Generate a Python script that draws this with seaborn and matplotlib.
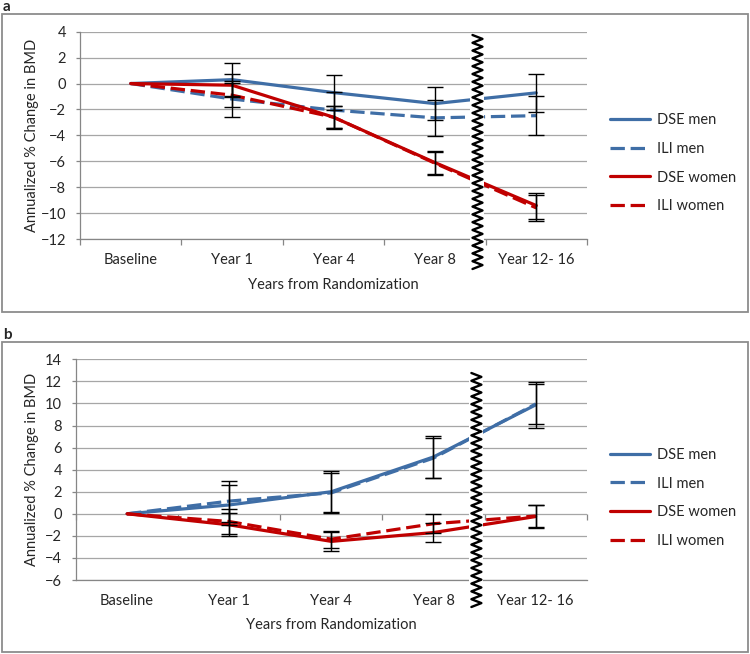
import numpy as np
import pandas as pd
import seaborn as sns
import matplotlib.pyplot as plt
from matplotlib.lines import Line2D
from matplotlib.patches import Rectangle

# categories and series
categories = ["Baseline", "Year 1", "Year 4", "Year 8", "Year 12- 16"]
series_names = ["DSE men", "ILI men", "DSE women", "ILI women"]

# panel a values (annualized % change in BMD)
a_dse_men = [0, 0.3, -0.7, -1.55, -0.72]
a_ili_men = [0, -1.2, -2.05, -2.65, -2.48]
a_dse_women = [0, -0.13, -2.6, -6.1, -9.42]
a_ili_women = [0, -0.9, -2.6, -6.15, -9.6]
# panel a error bars (no bar at baseline)
a_err_dse_men = [np.nan, 1.32, 1.35, 1.3, 1.44]
a_err_ili_men = [np.nan, 1.38, 1.4, 1.37, 1.5]
a_err_dse_women = [np.nan, 0.85, 0.85, 0.9, 1.0]
a_err_ili_women = [np.nan, 0.95, 0.9, 0.9, 1.0]

# panel b values
b_dse_men = [0, 0.8, 2.0, 5.15, 9.87]
b_ili_men = [0, 1.15, 1.9, 5.05, 9.95]
b_dse_women = [0, -1.0, -2.5, -1.7, -0.25]
b_ili_women = [0, -0.7, -2.3, -0.9, -0.2]
# panel b error bars
b_err_dse_men = [np.nan, 1.8, 1.88, 1.9, 2.1]
b_err_ili_men = [np.nan, 1.85, 1.8, 1.8, 1.82]
b_err_dse_women = [np.nan, 1.05, 0.85, 0.9, 1.07]
b_err_ili_women = [np.nan, 1.1, 0.77, 0.88, 1.0]

BLUE = "#3F6EA6"
RED = "#C00000"
palette = {"DSE men": BLUE, "ILI men": BLUE, "DSE women": RED, "ILI women": RED}
dashes = {"DSE men": "", "ILI men": (4.5, 1.8), "DSE women": "", "ILI women": (4.5, 1.8)}
BREAK_AT = 3.42  # where the axis break zigzag sits, in category units

sns.set_style("white")
plt.rcParams['font.family'] = ['Lato', 'DejaVu Sans']
plt.rcParams['font.size'] = 10.5

W, H = 750, 654
fig = plt.figure(figsize=(W / 100, H / 100), dpi=100)


def px_box(left, top, right, bottom):
    return [left / W, 1 - bottom / H, (right - left) / W, (bottom - top) / H]


def draw_panel(ax, values, errors, ylim, step, zero_axis=False):
    rows = []
    for name, vals in zip(series_names, values):
        for i, v in enumerate(vals):
            rows.append({"x": i, "value": v, "series": name})
    df = pd.DataFrame(rows)

    sns.lineplot(data=df, x="x", y="value", hue="series", style="series",
                 hue_order=series_names, style_order=series_names,
                 palette=palette, dashes=dashes, linewidth=2.3, ax=ax)

    for vals, errs in zip(values, errors):
        errs = np.array(errs, dtype=float)
        m = ~np.isnan(errs)
        xs = np.arange(len(categories))[m]
        ax.errorbar(xs, np.array(vals)[m], yerr=errs[m], fmt="none",
                    ecolor="black", elinewidth=1, capsize=5.5, capthick=1, zorder=5)

    ax.set_xlim(-0.5, len(categories) - 0.5)
    ax.set_ylim(*ylim)
    ax.set_yticks(np.arange(ylim[0], ylim[1] + 0.1, step))
    ax.set_xticks(range(len(categories)))
    ax.set_xticklabels(categories)
    ax.tick_params(axis="x", length=0, pad=10)
    ax.tick_params(axis="y", length=3, width=0.9, color="#868686", pad=7, direction="out", left=True)
    ax.grid(axis="y", color="#A6A6A6", linewidth=0.9)
    ax.set_axisbelow(True)
    for s in ["top", "right"]:
        ax.spines[s].set_visible(False)
    for s in ["left", "bottom"]:
        ax.spines[s].set_color("#868686")
        ax.spines[s].set_linewidth(0.9)

    if zero_axis:
        # category ticks sit on the zero line
        loc = (0 - ylim[0]) / (ylim[1] - ylim[0])
        sec = ax.secondary_xaxis(loc)
        sec.set_xticks(np.arange(-0.5, len(categories), 1.0))
        sec.set_xticklabels([])
        sec.tick_params(length=4, width=0.9, color="#868686", direction="out")
        sec.spines["bottom"].set_visible(False)
    else:
        ax.set_xticks(np.arange(-0.5, len(categories), 1.0), minor=True)
        ax.tick_params(axis="x", which="minor", length=4, width=0.9,
                       color="#868686", direction="out", bottom=True)

    ax.set_xlabel("Years from Randomization")
    ax.set_ylabel("Annualized % Change in BMD")
    ax.xaxis.label.set_va("center")
    ax.yaxis.label.set_va("center")

    handles, labels = ax.get_legend_handles_labels()
    ax.get_legend().remove()
    return handles, labels


def draw_break(ax, y_top, y_bot):
    xc = ax.transData.transform((BREAK_AT, 0))[0]
    band = Rectangle(((xc - 7) / W, 1 - y_bot / H), 14 / W, (y_bot - y_top) / H,
                     transform=fig.transFigure, facecolor="white", edgecolor="none", zorder=4)
    fig.add_artist(band)
    ys = np.arange(y_top, y_bot + 0.1, 3.9)
    xs = xc + np.where(np.arange(len(ys)) % 2 == 0, -5, 5)
    fig.add_artist(Line2D(xs / W, 1 - ys / H, transform=fig.transFigure,
                          color="black", linewidth=1.7, zorder=6))


def frame(top, bottom, label):
    fig.add_artist(Rectangle((2 / W, 1 - bottom / H), 746 / W, (bottom - top) / H,
                             transform=fig.transFigure, fill=False,
                             edgecolor="#8C8C8C", linewidth=1.3))
    fig.text(3 / W, 1 - (top - 7) / H, label, fontsize=11, weight="bold",
             va="center", ha="left")


# panel a
ax_a = fig.add_axes(px_box(80, 31.7, 587, 239))
h, l = draw_panel(ax_a,
                  [a_dse_men, a_ili_men, a_dse_women, a_ili_women],
                  [a_err_dse_men, a_err_ili_men, a_err_dse_women, a_err_ili_women],
                  (-12, 4), 2)
ax_a.xaxis.set_label_coords(0.5, (239 - 285) / 207.3)
ax_a.yaxis.set_label_coords((32 - 80) / 507, 0.5)
ax_a.legend(h, l, loc="center left", bbox_to_anchor=(610 / W, 1 - 163.3 / H),
            bbox_transform=fig.transFigure, frameon=False, borderaxespad=0,
            borderpad=0, handlelength=2.75, handletextpad=0.45, labelspacing=1.0)

# panel b
ax_b = fig.add_axes(px_box(76, 359.3, 586.7, 580))
h, l = draw_panel(ax_b,
                  [b_dse_men, b_ili_men, b_dse_women, b_ili_women],
                  [b_err_dse_men, b_err_ili_men, b_err_dse_women, b_err_ili_women],
                  (-6, 14), 2, zero_axis=True)
ax_b.xaxis.set_label_coords(0.5, (580 - 625) / 220.7)
ax_b.yaxis.set_label_coords((32 - 76) / 510.7, 0.5)
ax_b.legend(h, l, loc="center left", bbox_to_anchor=(610 / W, 1 - 497.8 / H),
            bbox_transform=fig.transFigure, frameon=False, borderaxespad=0,
            borderpad=0, handlelength=2.75, handletextpad=0.45, labelspacing=1.0)

draw_break(ax_a, 35, 272)
draw_break(ax_b, 373, 608)

frame(14, 312, "a")
frame(342, 652, "b")

fig.savefig("out.png", dpi=100)
